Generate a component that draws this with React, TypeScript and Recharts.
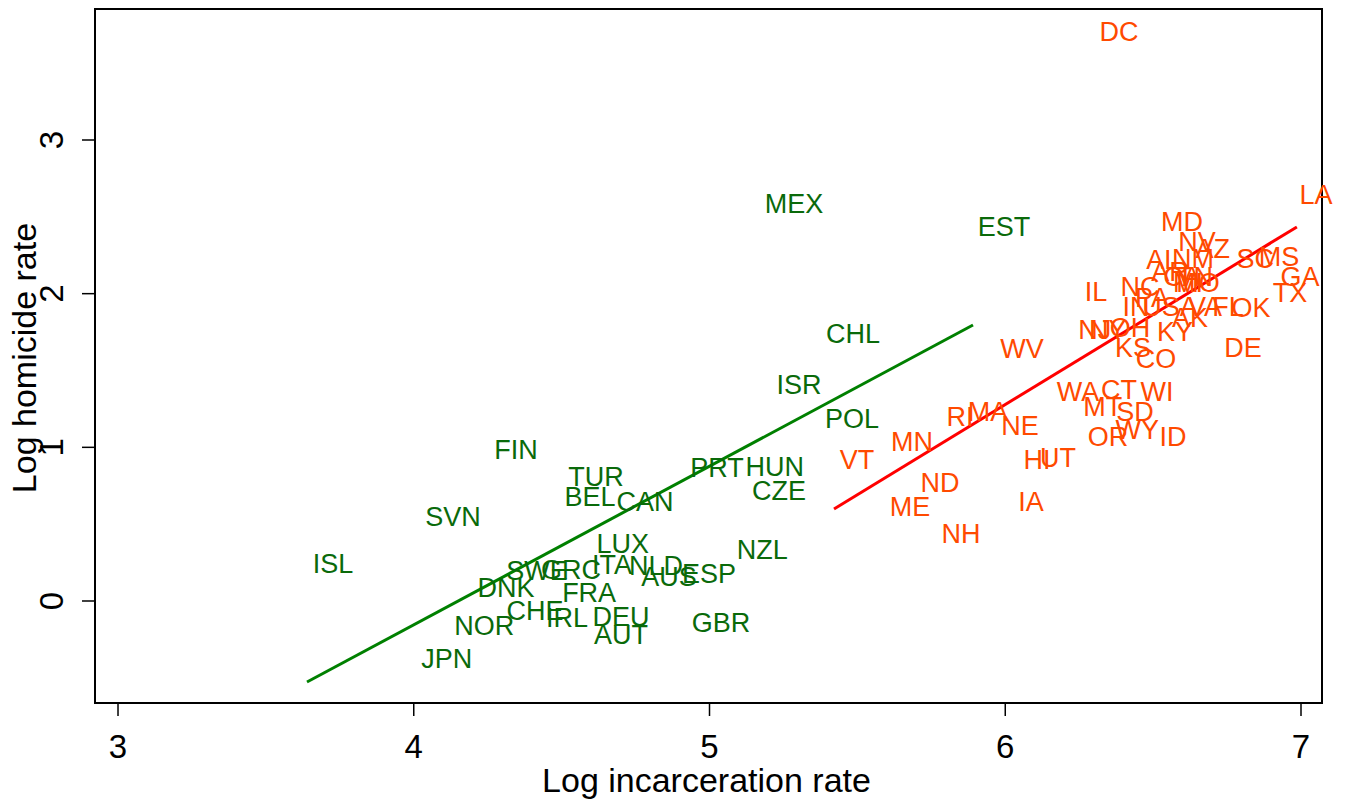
import { ReferenceArea, Scatter, ScatterChart, XAxis, YAxis } from "recharts";

const countryCodes = [
  "ISL", "SVN", "FIN", "JPN", "NOR", "DNK", "CHE", "IRL", "SWE", "GRC", "ITA",
  "NLD", "AUS", "ESP", "LUX", "FRA", "DEU", "AUT", "GBR", "NZL", "TUR", "BEL",
  "CAN", "PRT", "HUN", "CZE", "POL", "ISR", "CHL", "MEX", "EST",
];
const countryIncarceration = [
  3.727, 4.133, 4.346, 4.112, 4.238, 4.312, 4.41, 4.518, 4.417, 4.532, 4.67,
  4.819, 4.863, 4.998, 4.707, 4.593, 4.701, 4.701, 5.039, 5.178, 4.616, 4.596,
  4.782, 5.025, 5.221, 5.235, 5.482, 5.303, 5.485, 5.286, 5.996,
];
const countryHomicide = [
  0.241, 0.547, 0.983, -0.377, -0.163, 0.085, -0.065, -0.111, 0.195, 0.202, 0.234,
  0.228, 0.156, 0.176, 0.371, 0.052, -0.104, -0.221, -0.143, 0.332, 0.807, 0.677,
  0.644, 0.866, 0.872, 0.716, 1.184, 1.406, 1.737, 2.583, 2.434,
];

const stateCodes = [
  "DC", "LA", "MD", "NV", "AZ", "NM", "AL", "SC", "MS", "GA", "TX", "OK", "DE",
  "IL", "NC", "AR", "TN", "CA", "MI", "MO", "PA", "IN", "USA", "VA", "FL", "AK",
  "KY", "NJ", "NY", "OH", "KS", "CO", "WV", "WA", "CT", "WI", "MT", "SD", "WY",
  "OR", "ID", "HI", "UT", "VT", "MN", "RI", "MA", "NE", "ND", "ME", "NH", "IA",
];
const stateIncarceration = [
  6.385, 7.051, 6.598, 6.648, 6.702, 6.635, 6.533, 6.845, 6.926, 6.997, 6.963, 6.831, 6.804,
  6.307, 6.456, 6.557, 6.642, 6.598, 6.618, 6.652, 6.496, 6.442, 6.557, 6.675, 6.753, 6.625,
  6.574, 6.303, 6.347, 6.422, 6.432, 6.51, 6.057, 6.246, 6.385, 6.513, 6.33, 6.439, 6.446,
  6.347, 6.567, 6.107, 6.178, 5.499, 5.685, 5.847, 5.942, 6.05, 5.779, 5.678, 5.85, 6.087,
];
const stateHomicide = [
  3.703, 2.642, 2.466, 2.336, 2.291, 2.226, 2.219, 2.226, 2.239, 2.108, 2.004, 1.907, 1.646,
  2.011, 2.043, 2.141, 2.108, 2.108, 2.069, 2.069, 1.972, 1.913, 1.913, 1.913, 1.913, 1.842,
  1.751, 1.764, 1.764, 1.777, 1.646, 1.575, 1.64, 1.36, 1.373, 1.36, 1.262, 1.23, 1.113,
  1.067, 1.067, 0.918, 0.931, 0.918, 1.035, 1.197, 1.23, 1.139, 0.768, 0.612, 0.436, 0.644,
];

// fitted lines (end points)
const countryFitX = [3.639, 5.891];
const countryFitY = [-0.527, 1.796];
const stateFitX = [5.421, 6.986];
const stateFitY = [0.599, 2.434];

const xTicks = [3, 4, 5, 6, 7];
const yTicks = [0, 1, 2, 3];
const xDomain = [2.9222, 7.071];
const yDomain = [-0.6638, 3.8525];

const FONT = "'Liberation Sans', Arial, sans-serif";
const GREEN_TEXT = "#0a6a0a";
const GREEN_LINE = "#008000";
const RED_TEXT = "#ff4a00";
const RED_LINE = "#ff0000";

const countries = countryCodes.map((code, i) => ({
  code,
  x: countryIncarceration[i],
  y: countryHomicide[i],
}));
const states = stateCodes.map((code, i) => ({
  code,
  x: stateIncarceration[i],
  y: stateHomicide[i],
}));
const countryFit = countryFitX.map((x, i) => ({ x, y: countryFitY[i] }));
const stateFit = stateFitX.map((x, i) => ({ x, y: stateFitY[i] }));

const labelShape = (color: string) => (props: any) => (
  <text
    x={props.cx}
    y={props.cy}
    textAnchor="middle"
    dominantBaseline="central"
    fill={color}
    fontSize={27}
    fontFamily={FONT}
  >
    {props.payload.code}
  </text>
);

const noShape = () => <g />;

function XTick({ x, y, payload }: any) {
  return (
    <text
      x={x}
      y={y + 30}
      textAnchor="middle"
      dominantBaseline="central"
      fontSize={33}
      fontFamily={FONT}
      fill="#000"
    >
      {payload.value}
    </text>
  );
}

function YTick({ x, y, payload }: any) {
  const cx = x - 30;
  return (
    <text
      x={cx}
      y={y}
      transform={`rotate(-90 ${cx} ${y})`}
      textAnchor="middle"
      dominantBaseline="central"
      fontSize={33}
      fontFamily={FONT}
      fill="#000"
    >
      {payload.value}
    </text>
  );
}

export default function App() {
  return (
    <div style={{ position: "absolute", left: 0, top: 0, background: "#fff" }}>
      <ScatterChart
        width={1347}
        height={801}
        margin={{ top: 9, right: 25, left: 0, bottom: 0 }}
      >
        <XAxis
          type="number"
          dataKey="x"
          domain={xDomain}
          ticks={xTicks}
          height={98}
          tickSize={13}
          tickMargin={0}
          tick={<XTick />}
          axisLine={{ stroke: "#000", strokeWidth: 2 }}
          tickLine={{ stroke: "#000", strokeWidth: 1.5 }}
          label={{
            content: (p: any) => (
              <text
                x={p.viewBox.x + p.viewBox.width / 2 - 2}
                y={p.viewBox.y + 77}
                textAnchor="middle"
                dominantBaseline="central"
                fontSize={34}
                fontFamily={FONT}
                fill="#000"
              >
                Log incarceration rate
              </text>
            ),
          }}
        />
        <YAxis
          type="number"
          dataKey="y"
          domain={yDomain}
          ticks={yTicks}
          width={95}
          tickSize={13}
          tickMargin={0}
          tick={<YTick />}
          axisLine={{ stroke: "#000", strokeWidth: 2 }}
          tickLine={{ stroke: "#000", strokeWidth: 1.5 }}
          label={{
            content: (p: any) => {
              const cx = 24;
              const cy = p.viewBox.y + p.viewBox.height / 2 + 2;
              return (
                <text
                  x={cx}
                  y={cy}
                  transform={`rotate(-90 ${cx} ${cy})`}
                  textAnchor="middle"
                  dominantBaseline="central"
                  fontSize={34}
                  fontFamily={FONT}
                  fill="#000"
                >
                  Log homicide rate
                </text>
              );
            },
          }}
        />
        <ReferenceArea
          x1={xDomain[0]}
          x2={xDomain[1]}
          y1={yDomain[0]}
          y2={yDomain[1]}
          fill="none"
          stroke="#000"
          strokeWidth={2}
          ifOverflow="visible"
        />
        <Scatter
          data={countryFit}
          line={{ stroke: GREEN_LINE, strokeWidth: 3 }}
          shape={noShape}
          isAnimationActive={false}
        />
        <Scatter
          data={stateFit}
          line={{ stroke: RED_LINE, strokeWidth: 3 }}
          shape={noShape}
          isAnimationActive={false}
        />
        <Scatter
          data={countries}
          shape={labelShape(GREEN_TEXT)}
          isAnimationActive={false}
        />
        <Scatter
          data={states}
          shape={labelShape(RED_TEXT)}
          isAnimationActive={false}
        />
      </ScatterChart>
    </div>
  );
}
